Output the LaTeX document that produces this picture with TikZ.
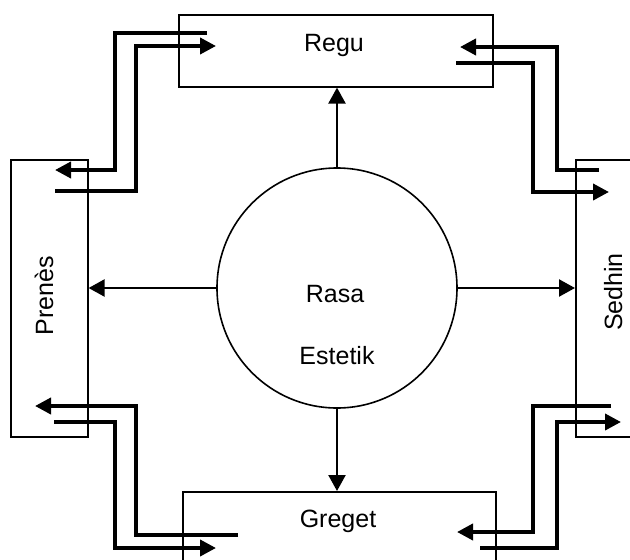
\documentclass[tikz,border=0pt]{standalone}
\usepackage{fontspec}
\setmainfont{Liberation Sans}
\usetikzlibrary{arrows.meta}
\begin{document}
\begin{tikzpicture}[x=1pt,y=-1pt,
  box/.style={draw, line width=1.6pt, inner sep=0pt, anchor=north west, rectangle},
  lbl/.style={font=\fontsize{25}{30}\selectfont, inner sep=0pt, anchor=base},
  thinarrow/.style={line width=2.3pt, -{Triangle[length=16pt,width=17pt]}},
  flow/.style={line width=3.8pt, line join=miter, -{Triangle[length=16pt,width=16pt]}}]
\useasboundingbox (0,0) rectangle (630,560);
\clip (0,0) rectangle (630,560);

% boxes
\node[box, minimum width=314pt, minimum height=72pt] (regu) at (178,14) {};
\node[box, minimum width=77pt, minimum height=277pt] (prenes) at (10,159) {};
\node[box, minimum width=110pt, minimum height=277pt] (sedhin) at (575,159) {};
\node[box, minimum width=313pt, minimum height=110pt] (greget) at (182,491) {};

% centre circle
\node[draw, circle, line width=1.6pt, minimum size=240pt, inner sep=0pt] (rasa) at (337,288) {};

% labels
\node[lbl] (tregu) at (334,51) {Regu};
\node[lbl] (tgreget) at (338,527) {Greget};
\node[lbl] (trasa) at (335,302) {Rasa};
\node[lbl] (testetik) at (337,364) {Estetik};
\node[lbl, rotate=90] (tprenes) at (53,296) {Prenès};
\node[lbl, rotate=90] (tsedhin) at (622,292) {Sedhin};

% arrows from the circle
\draw[thinarrow] (rasa.north) -- (regu.south -| rasa.north);
\draw[thinarrow] (rasa.south) -- (greget.north -| rasa.south);
\draw[thinarrow] (rasa.west) -- (prenes.east |- rasa.west);
\draw[thinarrow] (rasa.east) -- (sedhin.west |- rasa.east);

% flow end points
\coordinate (a1s) at (207,33);  \coordinate (a1t) at (55,170);
\coordinate (a2s) at (55,191);  \coordinate (a2t) at (216,46);
\coordinate (b1s) at (599,170); \coordinate (b1t) at (460,47);
\coordinate (b2s) at (456,63);  \coordinate (b2t) at (609,192);
\coordinate (c1s) at (238,535); \coordinate (c1t) at (35,406);
\coordinate (c2s) at (54,422);  \coordinate (c2t) at (216,548);
\coordinate (d1s) at (611,406); \coordinate (d1t) at (457,532);
\coordinate (d2s) at (480,548); \coordinate (d2t) at (621,422);

% Regu <-> Prenes
\draw[flow] (a1s) -- (115,33) -- (115,170) -- (a1t);
\draw[flow] (a2s) -- (136,191) -- (136,46) -- (a2t);
% Sedhin <-> Regu
\draw[flow] (b1s) -- (557,170) -- (557,47) -- (b1t);
\draw[flow] (b2s) -- (533,63) -- (533,192) -- (b2t);
% Greget <-> Prenes
\draw[flow] (c1s) -- (136,535) -- (136,406) -- (c1t);
\draw[flow] (c2s) -- (115,422) -- (115,548) -- (c2t);
% Sedhin <-> Greget
\draw[flow] (d1s) -- (533,406) -- (533,532) -- (d1t);
\draw[flow] (d2s) -- (557,548) -- (557,422) -- (d2t);
\end{tikzpicture}
\end{document}
